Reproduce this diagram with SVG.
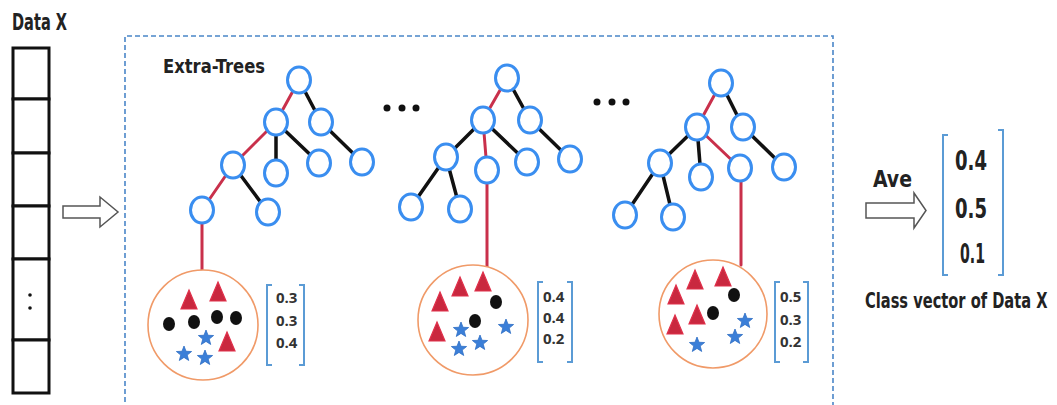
<svg xmlns="http://www.w3.org/2000/svg" width="1057" height="405" viewBox="0 0 1057 405">
<style>
.cond{font-family:"DejaVu Sans Condensed","DejaVu Sans",sans-serif;font-weight:bold;fill:#222}
.num{font-family:"Open Sans","Liberation Sans",sans-serif;font-weight:bold;font-size:15px;fill:#333}
.node{fill:#fff;stroke:#3a8ef0;stroke-width:3}
.blk{stroke:#111;stroke-width:3.5;stroke-linecap:round}
.red{stroke:#c9304b;stroke-width:3;stroke-linecap:round}
.leaf{fill:#fff;stroke:#f09a68;stroke-width:1.6}
.brk{fill:none;stroke:#5b9bd5;stroke-width:2}
.arrow{fill:#fff;stroke:#555;stroke-width:1.5}
.cell{fill:#fff;stroke:#111;stroke-width:3}
</style>
<defs>
<path id="star" d="M0,-8 L2,-2.75 L7.61,-2.47 L3.23,1.05 L4.7,6.47 L0,3.4 L-4.7,6.47 L-3.23,1.05 L-7.61,-2.47 L-2,-2.75 Z" fill="#3b7fd8" stroke="#2f6fc4" stroke-width="0.8"/>
<path id="tri" d="M0,-10 L8,9 L-8,9 Z" fill="#c9283f" stroke="#e0304a" stroke-width="1.2"/>
<ellipse id="dot" rx="6" ry="7" fill="#111"/>
</defs>

<!-- Data X column -->
<g id="data-x">
<text class="cond" x="12" y="30" font-size="23" textLength="55" lengthAdjust="spacingAndGlyphs">Data X</text>
<rect class="cell" x="13" y="48" width="36" height="51"/>
<rect class="cell" x="13" y="99" width="36" height="54"/>
<rect class="cell" x="13" y="153" width="36" height="53"/>
<rect class="cell" x="13" y="206" width="36" height="53"/>
<rect class="cell" x="13" y="259" width="36" height="81"/>
<rect class="cell" x="13" y="340" width="36" height="53"/>
<circle cx="30" cy="295" r="1.8" fill="#111"/>
<circle cx="30" cy="308" r="1.8" fill="#111"/>
</g>

<g id="arrow-in">
<polygon class="arrow" points="63,206 100,206 100,197 118,212 100,227 100,218 63,218"/>
</g>

<g id="extra-trees-box">
<path d="M125,410 V36 H833 V410" fill="none" stroke="#4a86c8" stroke-width="1.6" stroke-dasharray="5 3"/>
<text class="cond" x="163" y="73" font-size="20" textLength="102" lengthAdjust="spacingAndGlyphs">Extra-Trees</text>
</g>

<g id="ellipses">
<circle cx="387" cy="108" r="3.5" fill="#111"/><circle cx="402" cy="108" r="3.5" fill="#111"/><circle cx="416" cy="108" r="3.5" fill="#111"/>
<circle cx="597" cy="102" r="3.5" fill="#111"/><circle cx="612" cy="102" r="3.5" fill="#111"/><circle cx="626" cy="102" r="3.5" fill="#111"/>
</g>

<!-- connectors -->
<g id="connectors">
<!-- tree 1 -->
<line class="blk" x1="299" y1="80" x2="321" y2="122"/>
<line class="blk" x1="276" y1="122" x2="276" y2="173"/>
<line class="blk" x1="276" y1="122" x2="319" y2="163"/>
<line class="blk" x1="321" y1="122" x2="362" y2="162"/>
<line class="blk" x1="233" y1="165" x2="268" y2="212"/>
<line class="red" x1="299" y1="80" x2="276" y2="122"/>
<line class="red" x1="276" y1="122" x2="233" y2="165"/>
<line class="red" x1="233" y1="165" x2="202" y2="210"/>
<line class="red" x1="202" y1="210" x2="202" y2="270"/>
<!-- tree 2 -->
<line class="blk" x1="507" y1="78" x2="530" y2="120"/>
<line class="blk" x1="483" y1="120" x2="446" y2="157"/>
<line class="blk" x1="483" y1="120" x2="527" y2="162"/>
<line class="blk" x1="530" y1="120" x2="570" y2="159"/>
<line class="blk" x1="446" y1="157" x2="411" y2="207"/>
<line class="blk" x1="446" y1="157" x2="460" y2="209"/>
<line class="red" x1="507" y1="78" x2="483" y2="120"/>
<line class="red" x1="483" y1="120" x2="487" y2="170"/>
<line class="red" x1="487" y1="170" x2="487" y2="267"/>
<!-- tree 3 -->
<line class="blk" x1="721" y1="83" x2="743" y2="127"/>
<line class="blk" x1="697" y1="127" x2="660" y2="163"/>
<line class="blk" x1="697" y1="127" x2="701" y2="177"/>
<line class="blk" x1="743" y1="127" x2="784" y2="167"/>
<line class="blk" x1="660" y1="163" x2="625" y2="215"/>
<line class="blk" x1="660" y1="163" x2="673" y2="217"/>
<line class="red" x1="721" y1="83" x2="697" y2="127"/>
<line class="red" x1="697" y1="127" x2="740" y2="168"/>
<line class="red" x1="741" y1="168" x2="741" y2="265"/>
</g>

<!-- tree 1 nodes -->
<g id="tree1">
<ellipse class="node" cx="299" cy="80" rx="11.5" ry="13"/>
<ellipse class="node" cx="276" cy="122" rx="11.5" ry="13"/>
<ellipse class="node" cx="321" cy="122" rx="11.5" ry="13"/>
<ellipse class="node" cx="233" cy="165" rx="11.5" ry="13"/>
<ellipse class="node" cx="276" cy="173" rx="11.5" ry="13"/>
<ellipse class="node" cx="319" cy="163" rx="11.5" ry="13"/>
<ellipse class="node" cx="362" cy="162" rx="11.5" ry="13"/>
<ellipse class="node" cx="202" cy="210" rx="11.5" ry="13"/>
<ellipse class="node" cx="268" cy="212" rx="11.5" ry="13"/>
</g>
<g id="tree2">
<ellipse class="node" cx="507" cy="78" rx="11.5" ry="13"/>
<ellipse class="node" cx="483" cy="120" rx="11.5" ry="13"/>
<ellipse class="node" cx="530" cy="120" rx="11.5" ry="13"/>
<ellipse class="node" cx="446" cy="157" rx="11.5" ry="13"/>
<ellipse class="node" cx="487" cy="170" rx="11.5" ry="13"/>
<ellipse class="node" cx="527" cy="162" rx="11.5" ry="13"/>
<ellipse class="node" cx="570" cy="159" rx="11.5" ry="13"/>
<ellipse class="node" cx="411" cy="207" rx="11.5" ry="13"/>
<ellipse class="node" cx="460" cy="209" rx="11.5" ry="13"/>
</g>
<g id="tree3">
<ellipse class="node" cx="721" cy="83" rx="11.5" ry="13"/>
<ellipse class="node" cx="697" cy="127" rx="11.5" ry="13"/>
<ellipse class="node" cx="743" cy="127" rx="11.5" ry="13"/>
<ellipse class="node" cx="660" cy="163" rx="11.5" ry="13"/>
<ellipse class="node" cx="701" cy="177" rx="11.5" ry="13"/>
<ellipse class="node" cx="740" cy="168" rx="11.5" ry="13"/>
<ellipse class="node" cx="784" cy="167" rx="11.5" ry="13"/>
<ellipse class="node" cx="625" cy="215" rx="11.5" ry="13"/>
<ellipse class="node" cx="673" cy="217" rx="11.5" ry="13"/>
</g>

<!-- leaf 1 -->
<g id="leaf1">
<circle class="leaf" cx="203" cy="325" r="55"/>
<use href="#tri" x="189" y="300"/>
<use href="#tri" x="218" y="292"/>
<use href="#tri" x="227" y="342"/>
<use href="#dot" x="169" y="324"/>
<use href="#dot" x="194" y="322"/>
<use href="#dot" x="217" y="317"/>
<use href="#dot" x="236" y="318"/>
<use href="#star" x="206" y="338"/>
<use href="#star" x="184" y="354"/>
<use href="#star" x="205" y="358"/>
<path class="brk" d="M272,285 H267 V365 H272 M299,285 H304 V365 H299"/>
<text class="num" x="276" y="303">0.3</text>
<text class="num" x="276" y="326">0.3</text>
<text class="num" x="276" y="348">0.4</text>
</g>

<g id="leaf2">
<circle class="leaf" cx="473" cy="320" r="55"/>
<use href="#tri" x="460" y="287"/>
<use href="#tri" x="483" y="282"/>
<use href="#tri" x="440" y="302"/>
<use href="#tri" x="437" y="332"/>
<use href="#dot" x="496" y="302"/>
<use href="#dot" x="475" y="321"/>
<use href="#star" x="461" y="330"/>
<use href="#star" x="506" y="327"/>
<use href="#star" x="480" y="343"/>
<use href="#star" x="459" y="349"/>
<path class="brk" d="M543,282 H538 V362 H543 M567,282 H572 V362 H567"/>
<text class="num" x="543" y="302">0.4</text>
<text class="num" x="543" y="323">0.4</text>
<text class="num" x="543" y="344">0.2</text>
</g>

<g id="leaf3">
<circle class="leaf" cx="713" cy="314" r="54"/>
<use href="#tri" x="695" y="280"/>
<use href="#tri" x="723" y="277"/>
<use href="#tri" x="676" y="295"/>
<use href="#tri" x="697" y="315"/>
<use href="#tri" x="675" y="325"/>
<use href="#dot" x="734" y="295"/>
<use href="#dot" x="713" y="313"/>
<use href="#star" x="745" y="321"/>
<use href="#star" x="735" y="337"/>
<use href="#star" x="697" y="345"/>
<path class="brk" d="M780,282 H775 V362 H780 M803,282 H808 V362 H803"/>
<text class="num" x="780" y="302">0.5</text>
<text class="num" x="780" y="325">0.3</text>
<text class="num" x="780" y="347">0.2</text>
</g>

<g id="average">
<text class="cond" x="873" y="187" font-size="23" textLength="39" lengthAdjust="spacingAndGlyphs">Ave</text>
<polygon class="arrow" points="866,203 914,203 914,193 926,210.5 914,228 914,218 866,218"/>
</g>

<g id="class-vector">
<path class="brk" d="M948,135 H943 V275 H948 M998,130 H1003 V275 H998"/>
<text class="cond" x="955" y="170" font-size="26" textLength="32" lengthAdjust="spacingAndGlyphs">0.4</text>
<text class="cond" x="955" y="218" font-size="26" textLength="32" lengthAdjust="spacingAndGlyphs">0.5</text>
<text class="cond" x="960" y="263" font-size="26" textLength="25" lengthAdjust="spacingAndGlyphs">0.1</text>
<text class="cond" transform="translate(865,308) scale(0.74,1)" x="0" y="0" font-size="22">Class vector of Data X</text>
</g>
</svg>
